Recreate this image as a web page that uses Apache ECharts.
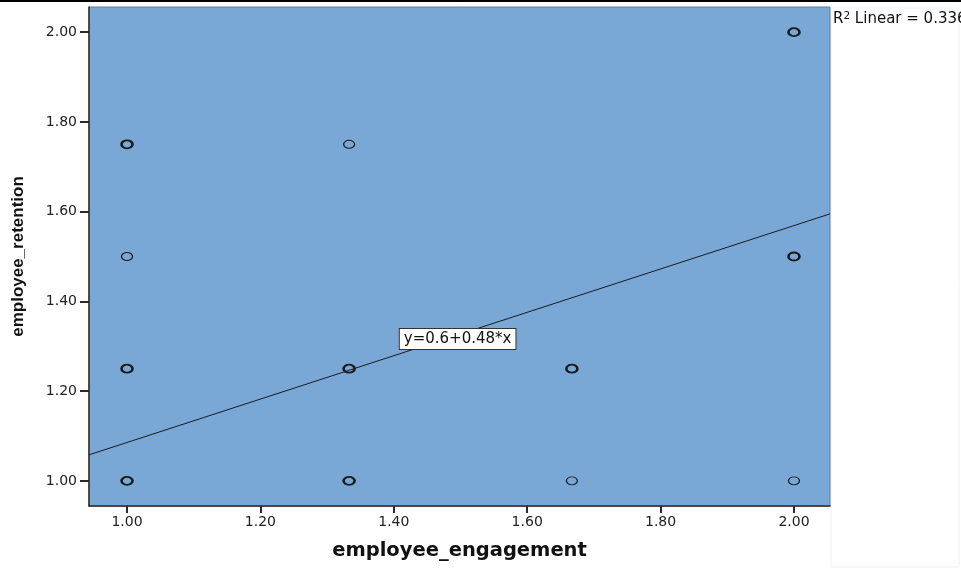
<!DOCTYPE html>
<html>
<head>
<meta charset="utf-8">
<script src="https://cdn.jsdelivr.net/npm/echarts@6/dist/echarts.min.js"></script>
<style>
  html, body { margin: 0; padding: 0; background: #fff; }
  #chart { width: 961px; height: 569px; }
</style>
</head>
<body>
<div id="chart"></div>
<script>
// scatter points (bold = several cases on the same spot)
let engagement = [1.00, 1.00, 1.00, 1.00, 1.333, 1.333, 1.333, 1.667, 1.667, 2.00, 2.00, 2.00];
let retention  = [1.75, 1.50, 1.25, 1.00, 1.75, 1.25, 1.00, 1.25, 1.00, 2.00, 1.50, 1.00];
let caseCount  = [3, 1, 3, 4, 1, 3, 2, 2, 1, 2, 2, 1];

// fit line, ends at the plot edges
let fitX = [0.943, 2.054];
let fitY = [1.058, 1.595];
let fitText = 'y=0.6+0.48*x';
let fitLabelAt = [1.409, 1.316];
let r2Text = '0.336';

let ticks = [1.00, 1.20, 1.40, 1.60, 1.80, 2.00];

let points = engagement.map((x, i) => ({
    value: [x, retention[i]],
    itemStyle: { borderWidth: caseCount[i] > 1 ? 2.2 : 1.1 }
}));

let myChart = echarts.init(document.getElementById('chart'));
myChart.setOption({
    animation: false,
    textStyle: { fontFamily: 'DejaVu Sans, sans-serif' },
    grid: {
        left: 89, top: 7, right: 131, bottom: 63,
        outerBoundsMode: 'none',
        containLabel: false,
        show: true,
        backgroundColor: '#79a8d6',
        borderColor: '#6b7a8a',
        borderWidth: 1
    },
    xAxis: {
        type: 'value',
        min: 0.943, max: 2.054,
        name: 'employee_engagement',
        nameLocation: 'middle',
        nameGap: 35,
        nameTextStyle: { fontSize: 19.5, fontWeight: 'bold', color: '#111', fontFamily: 'DejaVu Sans' },
        axisLine: { show: true, onZero: false, lineStyle: { color: '#2a2a2a', width: 1.5 } },
        axisTick: { show: true, length: 7, customValues: ticks, lineStyle: { color: '#2a2a2a', width: 2 } },
        axisLabel: {
            customValues: ticks, color: '#222', fontSize: 14, margin: 9,
            formatter: v => v.toFixed(2)
        },
        splitLine: { show: false }
    },
    yAxis: {
        type: 'value',
        min: 0.944, max: 2.056,
        name: 'employee_retention',
        nameLocation: 'middle',
        nameGap: 62,
        nameTextStyle: {
            fontSize: 17, fontWeight: 'bold', color: '#111',
            fontFamily: 'Liberation Sans, Arial, sans-serif'
        },
        axisLine: { show: true, onZero: false, lineStyle: { color: '#2a2a2a', width: 1.5 } },
        axisTick: { show: true, length: 9, customValues: ticks, lineStyle: { color: '#2a2a2a', width: 2 } },
        axisLabel: {
            customValues: ticks, color: '#222', fontSize: 14, margin: 12,
            formatter: v => v.toFixed(2)
        },
        splitLine: { show: false }
    },
    series: [
        {
            type: 'line',
            data: [[fitX[0], fitY[0]], [fitX[1], fitY[1]]],
            symbol: 'none',
            lineStyle: { color: '#1a1a1a', width: 1 },
            z: 2
        },
        {
            type: 'scatter',
            data: points,
            symbol: 'path://M0,5a6,5 0 1,0 12,0a6,5 0 1,0 -12,0z',
            symbolSize: [11, 8],
            itemStyle: { color: 'rgba(0,0,0,0)', borderColor: '#1a1a1a', opacity: 1 },
            z: 3
        },
        {
            type: 'scatter',
            data: [fitLabelAt],
            symbolSize: 0,
            silent: true,
            itemStyle: { opacity: 1 },
            label: {
                show: true,
                position: 'right',
                distance: 0,
                formatter: fitText,
                color: '#111',
                fontSize: 15,
                backgroundColor: '#fff',
                borderColor: '#333',
                borderWidth: 1,
                padding: [3, 4, 2, 4]
            },
            z: 4
        }
    ],
    graphic: [
        { type: 'rect', shape: { x: 0, y: 0, width: 961, height: 2 }, style: { fill: '#000' } },
        { type: 'rect', shape: { x: 831, y: 8, width: 128, height: 559 },
          style: { fill: '#fff', stroke: '#eaf3fc', lineWidth: 1 }, z: -1 },
        {
            type: 'text', left: 833, top: 11,
            style: {
                text: '{t|R}{s|2}{t| Linear = ' + r2Text + '}',
                rich: {
                    t: { fontSize: 15, fill: '#111', fontFamily: 'DejaVu Sans' },
                    s: { fontSize: 10.5, fill: '#111', fontFamily: 'DejaVu Sans', verticalAlign: 'top', padding: [0, 0, 6, 0] }
                }
            }
        }
    ]
});
</script>
</body>
</html>
